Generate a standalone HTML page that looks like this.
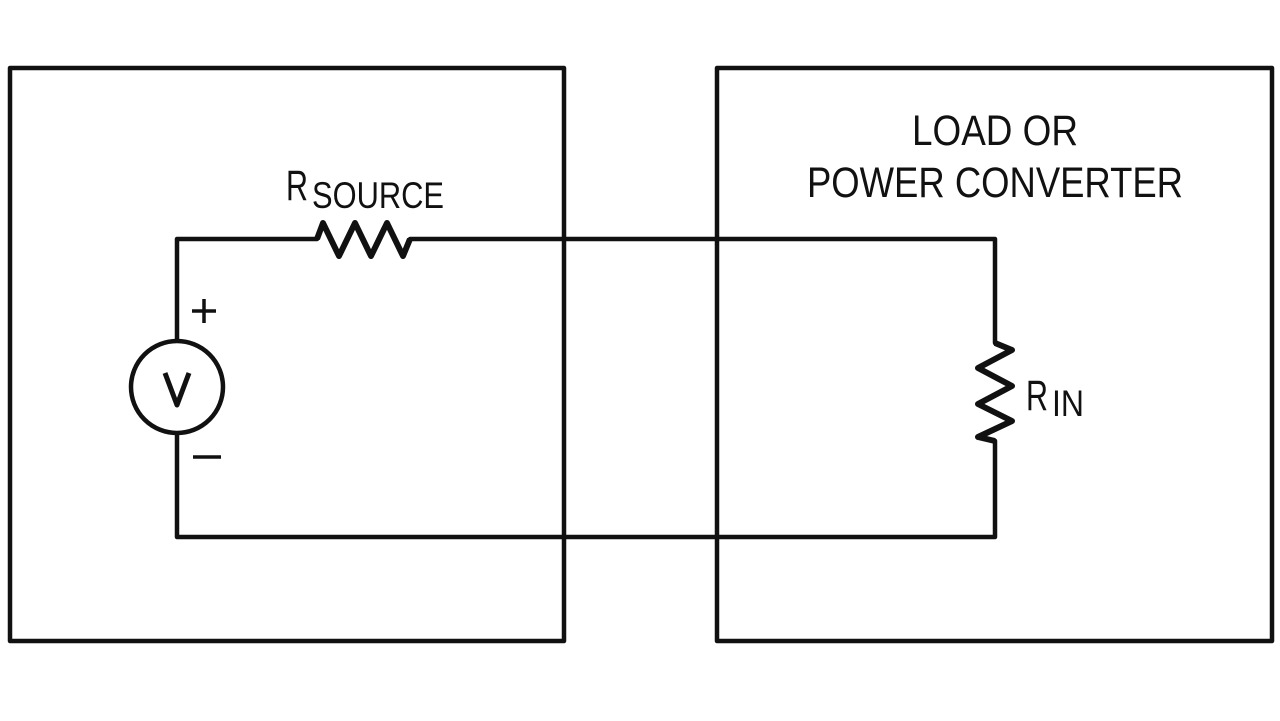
<!DOCTYPE html>
<html><head><style>
html,body{margin:0;padding:0;background:#fff;}
svg{display:block;}
text{font-family:"Liberation Sans",sans-serif;fill:#111;}
</style></head><body>
<svg width="1280" height="721" viewBox="0 0 1280 721" xmlns="http://www.w3.org/2000/svg">
<g fill="none" stroke="#111" stroke-width="4.5" stroke-linejoin="round">
<rect x="10" y="68" width="554" height="573"/>
<rect x="717" y="68" width="555" height="573"/>
<polyline points="177,341 177,239 317,239 323,223 339,256 355,223 371,256 387,223 403,256 410,239 995,239 995,343 1012,350 978,368 1012,386 978,404 1012,421 978,437 995,441 995,537 177,537 177,433"/>
<polyline points="317,239 323,223 339,256 355,223 371,256 387,223 403,256 410,239" stroke-width="6"/>
<polyline points="995,343 1012,350 978,368 1012,386 978,404 1012,421 978,437 995,441" stroke-width="6"/>
<circle cx="177" cy="387" r="46"/>
<polyline points="165,373 177,405 189,373" stroke-width="5"/>
<line x1="192" y1="311" x2="216" y2="311" stroke-width="3.5"/>
<line x1="204" y1="299" x2="204" y2="323" stroke-width="3.5"/>
<line x1="193" y1="457" x2="221" y2="457" stroke-width="3.5"/>
</g>
<text x="912" y="145" font-size="43" textLength="166" lengthAdjust="spacingAndGlyphs">LOAD OR</text>
<text x="807" y="197" font-size="43" textLength="376" lengthAdjust="spacingAndGlyphs">POWER CONVERTER</text>
<text x="286" y="200" font-size="43" textLength="22" lengthAdjust="spacingAndGlyphs">R</text>
<text x="312" y="208" font-size="37" textLength="132" lengthAdjust="spacingAndGlyphs">SOURCE</text>
<text x="1026" y="410" font-size="43" textLength="22" lengthAdjust="spacingAndGlyphs">R</text>
<text x="1052" y="416" font-size="37" textLength="32" lengthAdjust="spacingAndGlyphs">IN</text>
</svg>
</body></html>
